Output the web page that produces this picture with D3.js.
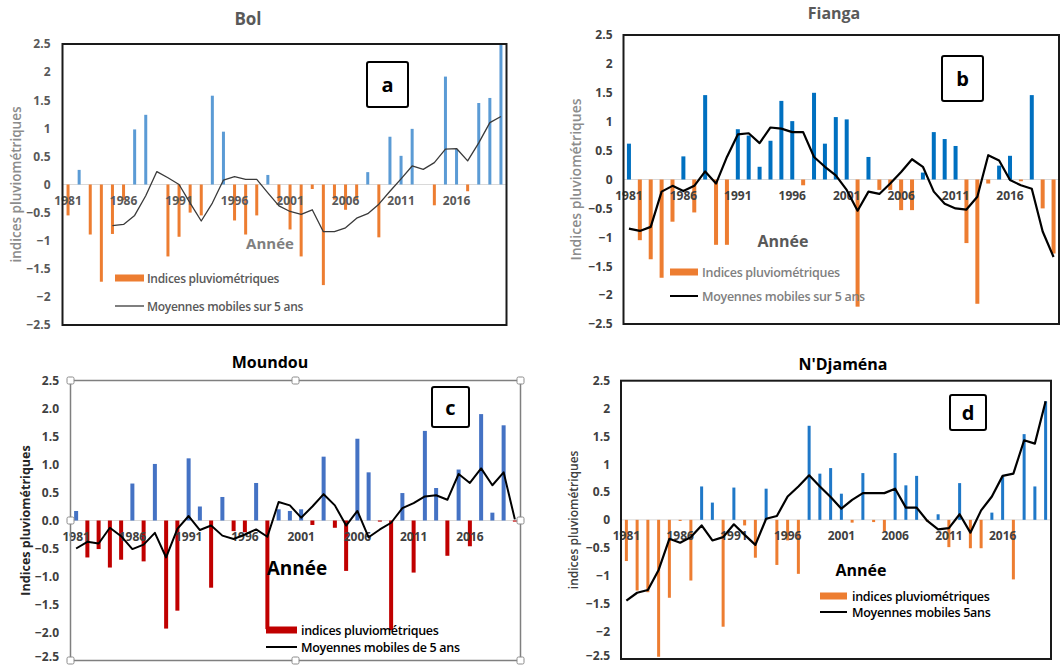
<!DOCTYPE html>
<html><head><meta charset="utf-8">
<script src="https://cdn.jsdelivr.net/npm/d3@7"></script>
<style>body{margin:0;background:#fff} svg{display:block} text{font-family:'Open Sans',sans-serif}</style>
</head><body><svg id="chart" width="1061" height="667"></svg>
<script>
// ---- categories ----
const years = [1981,1982,1983,1984,1985,1986,1987,1988,1989,1990,1991,1992,1993,1994,1995,1996,1997,1998,1999,2000,
               2001,2002,2003,2004,2005,2006,2007,2008,2009,2010,2011,2012,2013,2014,2015,2016,2017,2018,2019,2020];
const xTickYears = [1981,1986,1991,1996,2001,2006,2011,2016];
const yTicks = [2.5,2,1.5,1,0.5,0,-0.5,-1,-1.5,-2,-2.5];

// ---- Bol (a) ----
const bolIndex = [-0.55,0.26,-0.89,-1.73,-0.88,-0.28,0.98,1.24,0,-1.28,
                  -0.93,-0.5,-0.55,1.58,0.94,-0.64,-0.89,-0.55,0.17,-0.3,
                  -0.8,-1.28,-0.08,-1.79,-0.27,-0.45,-0.27,0.22,-0.94,0.85,
                  0.51,0.99,0,-0.37,1.92,0.63,-0.12,1.45,1.54,2.5];
const bolMAYears = [1985,1986,1987,1988,1989,1990,1991,1992,1993,1994,1995,1996,1997,1998,1999,2000,2001,2002,
                    2003,2004,2005,2006,2007,2008,2009,2010,2011,2012,2013,2014,2015,2016,2017,2018,2019,2020];
const bolMA = [-0.73,-0.71,-0.55,-0.2,0.23,0.12,0.0,-0.33,-0.65,-0.33,
               0.08,0.14,0.09,0.09,-0.15,-0.38,-0.48,-0.53,-0.45,-0.84,
               -0.84,-0.77,-0.6,-0.52,-0.35,-0.12,0.1,0.33,0.27,0.39,
               0.63,0.64,0.42,0.74,1.1,1.21];

// ---- Fianga (b) ----
const fiangaIndex = [0.62,-1.05,-1.38,-1.7,-0.73,0.4,-0.57,1.46,-1.13,-1.13,
                     0.87,0.76,0.22,0.67,1.36,1.01,-0.1,1.5,0.62,1.08,
                     1.04,-2.2,0.39,-0.18,-0.18,-0.53,-0.53,0.12,0.82,0.7,
                     0.58,-1.1,-2.15,-0.07,0.24,0.41,-0.03,1.46,-0.5,-1.28];
const fiangaMA = [-0.85,-0.89,-0.82,-0.21,-0.11,-0.2,-0.11,0.14,-0.07,0.39,
                  0.78,0.8,0.63,0.9,0.88,0.82,0.82,0.39,0.22,0.07,
                  -0.18,-0.54,-0.21,-0.25,-0.07,0.13,0.35,0.22,-0.21,-0.42,
                  -0.5,-0.52,-0.3,0.42,0.33,-0.01,-0.1,-0.16,-0.9,-1.34];

// ---- Moundou (c) ----
const moundouIndex = [0.17,-0.66,-0.51,-0.84,-0.7,0.66,-0.73,1.01,-1.93,-1.61,
                      1.11,0.25,-1.2,0.42,-0.19,-0.21,0.67,-1.94,0.2,0.17,
                      0.2,-0.08,1.14,-0.13,-0.9,1.46,0.86,-0.02,-1.96,0.49,
                      -0.93,1.6,0.58,-0.63,0.91,-0.46,1.9,0.14,1.7,-0.02];
const moundouMA = [-0.5,-0.38,-0.41,-0.13,-0.28,-0.51,-0.43,-0.22,-0.66,-0.15,
                   0.08,-0.17,-0.09,-0.27,-0.33,-0.25,-0.16,-0.29,0.33,0.27,
                   0.05,0.25,0.47,0.27,-0.09,0.17,-0.3,-0.16,-0.04,0.22,
                   0.31,0.43,0.45,0.37,0.83,0.67,0.93,0.63,0.86,0.02];

// ---- N'Djaména (d) ----
const ndjIndex = [-0.74,-1.27,-1.3,-2.46,-1.4,-0.02,-1.09,0.6,0.31,-1.92,
                  0.58,-0.1,-0.68,0.56,-0.81,-0.37,-0.97,1.69,0.83,0.93,
                  0.47,-0.05,0.84,-0.04,-0.21,1.2,0.62,0.79,-0.03,0.1,
                  -0.49,0.66,-0.51,-0.51,0.13,0.78,-1.07,1.54,0.6,2.13];
const ndjMA = [-1.45,-1.31,-1.26,-0.9,-0.34,-0.41,-0.31,-0.1,-0.37,-0.31,
               -0.08,-0.27,-0.45,0.02,0.07,0.42,0.6,0.8,0.6,0.41,
               0.2,0.36,0.48,0.48,0.48,0.56,0.22,0.22,-0.02,-0.17,
               -0.15,0.1,-0.23,0.17,0.42,0.79,0.83,1.43,1.37,2.13];

const svg = d3.select('#chart');

const panels = [
  {title:'Bol', letter:'a', idx:bolIndex, maYears:bolMAYears, ma:bolMA,
   x0:62.5, x1:506.5, yt:44, yb:325, bw:3, pos:'#5b9bd5', neg:'#ed7d31', lineCol:'#3a3a3a', lineW:1.3,
   frame:'#1a1a1a', frameW:2, handles:false, fmt:d3.format('~g'), tickCol:'#595959', tickPad:12,
   titleX:248, titleY:18, titleCol:'#595959', titleSize:17,
   yTitle:'indices pluviométriques', yTitleX:16, yTitleCol:'#8c8c8c', yTitleSize:13.5, yTitleW:600,
   annee:[270,243], anneeCol:'#7f7f7f', anneeSize:15,
   leg:{sx:115, sw:29, y1:278, y2:306, tx:147, col:'#595959', size:12, t1:'Indices pluviométriques', t2:'Moyennes mobiles sur 5 ans', lw:1.3, lc:'#3a3a3a'},
   box:[367,62,41,45]},
  {title:'Fianga', letter:'b', idx:fiangaIndex, maYears:years, ma:fiangaMA,
   x0:623.5, x1:1059, yt:35, yb:324, bw:4, pos:'#0070c0', neg:'#ed7d31', lineCol:'#000', lineW:2.2,
   frame:'#1a1a1a', frameW:2, handles:false, fmt:d3.format('~g'), tickCol:'#404040', tickPad:11,
   titleX:834, titleY:13, titleCol:'#595959', titleSize:16,
   yTitle:'Indices pluviométriques', yTitleX:575, yTitleCol:'#8c8c8c', yTitleSize:14, yTitleW:600,
   annee:[783,241], anneeCol:'#595959', anneeSize:16,
   leg:{sx:670, sw:28, y1:272, y2:296, tx:702, col:'#808080', size:12.5, t1:'Indices pluviométriques', t2:'Moyennes mobiles sur 5 ans', lw:2, lc:'#000'},
   box:[942,56,41,45]},
  {title:'Moundou', letter:'c', idx:moundouIndex, maYears:years, ma:moundouMA,
   x0:70.5, x1:520.5, yt:380.5, yb:660.5, bw:4, pos:'#4472c4', neg:'#c00000', lineCol:'#000', lineW:2,
   frame:'#7f7f7f', frameW:1.5, handles:true, fmt:d3.format('.1f'), tickCol:'#404040', tickPad:11.5,
   titleX:270, titleY:362, titleCol:'#000', titleSize:16,
   yTitle:'Indices pluviométriques', yTitleX:25, yTitleCol:'#262626', yTitleSize:12.5, yTitleW:700,
   annee:[297,568], anneeCol:'#000', anneeSize:19,
   leg:{sx:266, sw:31, y1:630, y2:647, tx:301, col:'#000', size:12.5, t1:'indices pluviométriques', t2:'Moyennes mobiles de 5 ans', lw:2, lc:'#000'},
   box:[432,387,37,40]},
  {title:"N'Djaména", letter:'d', idx:ndjIndex, maYears:years, ma:ndjMA,
   x0:621, x1:1051, yt:380.7, yb:659, bw:3, pos:'#1f78c8', neg:'#ed7d31', lineCol:'#000', lineW:2.2,
   frame:'#1a1a1a', frameW:2, handles:false, fmt:d3.format('~g'), tickCol:'#404040', tickPad:11,
   titleX:843, titleY:364, titleCol:'#000', titleSize:16,
   yTitle:'indices pluviométriques', yTitleX:573, yTitleCol:'#404040', yTitleSize:12, yTitleW:600,
   annee:[861,570], anneeCol:'#000', anneeSize:16,
   leg:{sx:820, sw:27, y1:596, y2:612, tx:852, col:'#000', size:12.5, t1:'indices pluviométriques', t2:'Moyennes mobiles 5ans', lw:2, lc:'#000'},
   box:[950,395,36,35]}
];

function drawPanel(p){
  const g = svg.append('g');
  const x = d3.scaleBand().domain(years).range([p.x0, p.x1]).padding(0);
  const y = d3.scaleLinear().domain([-2.5, 2.5]).range([p.yb, p.yt]);
  const cx = yr => x(yr) + x.bandwidth()/2;

  // zero line
  g.append('line').attr('x1', p.x0).attr('x2', p.x1).attr('y1', y(0)).attr('y2', y(0))
    .attr('stroke', '#d9d9d9').attr('stroke-width', 1);

  // bars
  const bars = years.map((yr, i) => ({yr, v: p.idx[i]}));
  g.append('g').selectAll('rect').data(bars).join('rect')
    .attr('x', d => cx(d.yr) - p.bw/2).attr('width', p.bw)
    .attr('y', d => y(Math.max(0, d.v))).attr('height', d => Math.abs(y(d.v) - y(0)))
    .attr('fill', d => d.v >= 0 ? p.pos : p.neg);

  // x axis labels at zero line (over the bars)
  const xa = d3.axisBottom(x).tickValues(xTickYears).tickSize(0).tickPadding(12);
  const xg = g.append('g').attr('transform', `translate(0,${y(0)})`).call(xa);
  xg.select('.domain').remove();
  xg.selectAll('text').attr('fill', p.tickCol).style('font-size', '12px').style('font-weight', 700)
    .style('font-family', "'Open Sans',sans-serif");

  // moving average line
  const pts = p.maYears.map((yr, i) => ({yr, v: p.ma[i]}));
  g.append('path').datum(pts)
    .attr('d', d3.line().x(d => cx(d.yr)).y(d => y(d.v)))
    .attr('fill', 'none').attr('stroke', p.lineCol).attr('stroke-width', p.lineW).attr('stroke-linejoin', 'round');

  // y axis labels
  const ya = d3.axisLeft(y).tickValues(yTicks).tickSize(0).tickPadding(p.tickPad).tickFormat(p.fmt);
  const yg = g.append('g').attr('transform', `translate(${p.x0},0)`).call(ya);
  yg.select('.domain').remove();
  yg.selectAll('text').attr('fill', p.tickCol).style('font-size', '12px').style('font-weight', 700)
    .style('font-family', "'Open Sans',sans-serif");
  // keep the lowest label inside the page
  yg.selectAll('.tick').filter(d => y(d) > 657).select('text').attr('dy', '0em');

  // frame
  g.append('rect').attr('x', p.x0).attr('y', p.yt).attr('width', p.x1 - p.x0).attr('height', p.yb - p.yt)
    .attr('fill', 'none').attr('stroke', p.frame).attr('stroke-width', p.frameW);
  if (p.handles) {
    const xm = (p.x0 + p.x1) / 2, ym = y(0);
    const hp = [[p.x0,p.yt],[xm,p.yt],[p.x1,p.yt],[p.x0,ym],[p.x1,ym],[p.x0,p.yb],[xm,p.yb],[p.x1,p.yb]];
    g.selectAll('rect.h').data(hp).join('rect').attr('class','h')
      .attr('x', d => d[0]-3.5).attr('y', d => d[1]-3.5).attr('width', 7).attr('height', 7).attr('rx', 1.5)
      .attr('fill', '#fff').attr('stroke', '#8c8c8c').attr('stroke-width', 1);
  }

  // title
  g.append('text').attr('x', p.titleX).attr('y', p.titleY).attr('text-anchor', 'middle').attr('dominant-baseline', 'central')
    .attr('fill', p.titleCol).style('font-size', p.titleSize + 'px').style('font-weight', 700).text(p.title);

  // y axis title
  const mid = (p.yt + p.yb) / 2;
  g.append('text').attr('transform', `translate(${p.yTitleX},${mid}) rotate(-90)`).attr('text-anchor', 'middle')
    .attr('dominant-baseline', 'central').attr('fill', p.yTitleCol)
    .style('font-size', p.yTitleSize + 'px').style('font-weight', p.yTitleW).text(p.yTitle);

  // x title "Année"
  g.append('text').attr('x', p.annee[0]).attr('y', p.annee[1]).attr('text-anchor', 'middle').attr('dominant-baseline', 'central')
    .attr('fill', p.anneeCol).style('font-size', p.anneeSize + 'px').style('font-weight', 700).text('Année');

  // legend
  const L = p.leg;
  g.append('rect').attr('x', L.sx).attr('y', L.y1 - 3.5).attr('width', L.sw).attr('height', 7).attr('fill', p.neg);
  g.append('line').attr('x1', L.sx).attr('x2', L.sx + L.sw).attr('y1', L.y2).attr('y2', L.y2)
    .attr('stroke', L.lc).attr('stroke-width', L.lw);
  g.append('text').attr('x', L.tx).attr('y', L.y1).attr('dominant-baseline', 'central').attr('fill', L.col)
    .style('font-size', L.size + 'px').style('font-weight', 600).style('letter-spacing', '-0.3px').text(L.t1);
  g.append('text').attr('x', L.tx).attr('y', L.y2).attr('dominant-baseline', 'central').attr('fill', L.col)
    .style('font-size', L.size + 'px').style('font-weight', 600).style('letter-spacing', '-0.3px').text(L.t2);

  // letter box
  const b = p.box;
  g.append('rect').attr('x', b[0]).attr('y', b[1]).attr('width', b[2]).attr('height', b[3]).attr('rx', 2)
    .attr('fill', '#fff').attr('stroke', '#000').attr('stroke-width', 2);
  g.append('text').attr('x', b[0] + b[2]/2).attr('y', b[1] + b[3]/2).attr('text-anchor', 'middle')
    .attr('dominant-baseline', 'central').attr('fill', '#000').style('font-size', '20px').style('font-weight', 700).text(p.letter);
}

panels.forEach(drawPanel);
</script>
</body></html>
